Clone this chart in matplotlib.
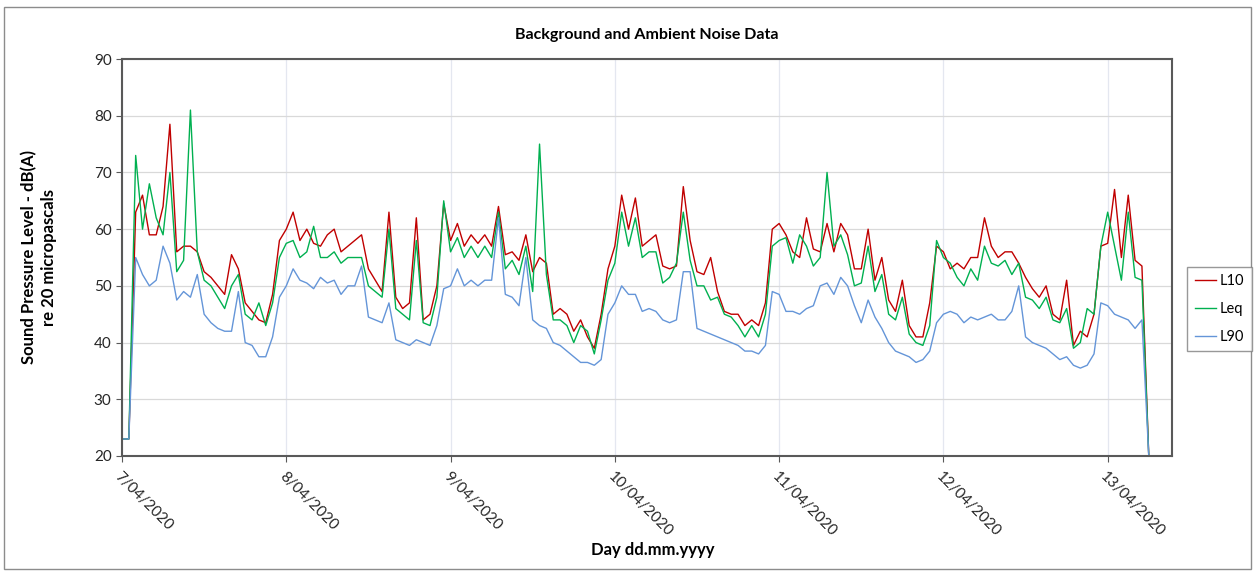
import numpy as np
import pandas as pd
import matplotlib
matplotlib.use("Agg")
import matplotlib.pyplot as plt
from matplotlib.patches import Rectangle

plt.rcParams['font.family'] = ['Lato', 'DejaVu Sans']

# hourly values, starting 7/04/2020 00:00
l10 = [
    23, 23, 63, 66, 59, 59, 64, 78.5, 56, 57, 57, 56, 52.5, 51.5, 50, 48.5, 55.5, 53, 47, 45.5, 44, 43.5, 48.5, 58,   # 7/04
    60, 63, 58, 60, 57.5, 57, 59, 60, 56, 57, 58, 59, 53, 51, 49, 63, 48, 46, 47, 62, 44, 45, 50, 64.5,              # 8/04
    58, 61, 57, 59, 57.5, 59, 57, 64, 55.5, 56, 54.5, 59, 52.5, 55, 54, 45, 46, 45, 42, 44, 41, 39, 45, 53,          # 9/04
    57, 66, 60, 65.5, 57, 58, 59, 53.5, 53, 53.5, 67.5, 58, 52.5, 52, 55, 49, 45.5, 45, 45, 43, 44, 43, 47, 60,      # 10/04
    61, 59, 56, 55, 62, 56.5, 56, 61, 56, 61, 59, 53, 53, 60, 51, 55, 47.5, 45.5, 51, 43, 41, 41, 47, 57,            # 11/04
    56, 53, 54, 53, 55, 55, 62, 57, 55, 56, 56, 54, 51.5, 49.5, 48, 50, 45, 44, 51, 39.5, 42, 41, 45, 57,            # 12/04
    57.5, 67, 55, 66, 54.5, 53.5, 20,                                                                                  # 13/04
]
leq = [
    23, 23, 73, 60, 68, 62, 59, 70, 52.5, 54.5, 81, 56, 51, 50, 48, 46, 50, 52, 45, 44, 47, 43, 47, 55,
    57.5, 58, 55, 56, 60.5, 55, 55, 56, 54, 55, 55, 55, 50, 49, 48, 60, 46, 45, 44, 58, 43.5, 43, 48, 65,
    56, 58.5, 55, 57, 55, 57, 55, 63, 53, 54.5, 52, 57, 49, 75, 52, 44, 44, 43, 40, 43, 42, 38, 44, 51,
    54, 63, 57, 62, 55, 56, 56, 50.5, 51.5, 54, 63, 54.5, 50, 50, 47.5, 48, 45, 44.5, 43, 41, 43, 41, 45, 57,
    58, 58.5, 54, 59, 57, 53.5, 55, 70, 57, 59, 55.5, 50, 50.5, 57, 49, 52, 45, 44, 48, 41.5, 40, 39.5, 43, 58,
    55, 54, 51.5, 50, 53, 51, 57, 54, 53.5, 54.5, 52, 54, 48, 47.5, 46, 48, 44, 43.5, 46, 39, 40, 46, 45, 57,
    63, 57, 51, 63, 51.5, 51, 20,
]
l90 = [
    23, 23, 55, 52, 50, 51, 57, 54, 47.5, 49, 48, 52, 45, 43.5, 42.5, 42, 42, 49, 40, 39.5, 37.5, 37.5, 41, 48,
    50, 53, 51, 50.5, 49.5, 51.5, 50.5, 51, 48.5, 50, 50, 53.5, 44.5, 44, 43.5, 47, 40.5, 40, 39.5, 40.5, 40, 39.5, 43, 49.5,
    50, 53, 50, 51, 50, 51, 51, 62, 48.5, 48, 46.5, 55, 44, 43, 42.5, 40, 39.5, 38.5, 37.5, 36.5, 36.5, 36, 37, 45,
    47, 50, 48.5, 48.5, 45.5, 46, 45.5, 44, 43.5, 44, 52.5, 52.5, 42.5, 42, 41.5, 41, 40.5, 40, 39.5, 38.5, 38.5, 38, 39.5, 49,
    48.5, 45.5, 45.5, 45, 46, 46.5, 50, 50.5, 48.5, 51.5, 50, 46.5, 43.5, 47.5, 44.5, 42.5, 40, 38.5, 38, 37.5, 36.5, 37, 38.5, 43.5,
    45, 45.5, 45, 43.5, 44.5, 44, 44.5, 45, 44, 44, 45.5, 50, 41, 40, 39.5, 39, 38, 37, 37.5, 36, 35.5, 36, 38, 47,
    46.5, 45, 44.5, 44, 42.5, 44, 20,
]
day_labels = ['7/04/2020', '8/04/2020', '9/04/2020', '10/04/2020',
              '11/04/2020', '12/04/2020', '13/04/2020']

start = pd.Timestamp('2020-04-07 00:00')
times = pd.date_range(start, periods=len(l10), freq='h')

fig = plt.figure(figsize=(12.55, 5.72), dpi=100)
fig.patches.append(Rectangle((0.003, 0.006), 0.994, 0.982, transform=fig.transFigure,
                             fill=False, edgecolor='#8c8c8c', lw=1.0))
ax = fig.add_axes([0.0972, 0.2028, 0.8367, 0.694])

ax.plot(times, l10, color='#C00000', lw=1.0, label='L10')
ax.plot(times, leq, color='#00B050', lw=1.0, label='Leq')
ax.plot(times, l90, color='#6495D8', lw=1.0, label='L90')

ax.set_ylim(20, 90)
ax.set_yticks(range(20, 91, 10))
ax.set_xlim(start, start + pd.Timedelta(hours=153.4))
ax.set_xticks(pd.date_range(start, periods=len(day_labels), freq='D'))
ax.set_xticklabels(day_labels, rotation=-45, ha='left', va='top', rotation_mode='anchor')

ax.set_axisbelow(True)
ax.yaxis.grid(True, color='#d9d9d9', lw=0.9)
ax.xaxis.grid(True, color='#e4e7f0', lw=0.9)
for sp in ax.spines.values():
    sp.set_color('#595959')
    sp.set_linewidth(1.5)
ax.tick_params(axis='both', direction='out', length=4, color='#595959',
               labelsize=11, labelcolor='#262626')
ax.tick_params(axis='x', pad=6)

fig.text(0.5155, 0.938, 'Background and Ambient Noise Data', ha='center', va='center',
         fontsize=11.5, fontweight='bold')
fig.text(0.031, 0.55, 'Sound Pressure Level - dB(A)\nre 20 micropascals', ha='center', va='center',
         rotation=90, fontsize=12, fontweight='bold', linespacing=1.3)
fig.text(0.52, 0.038, 'Day dd.mm.yyyy', ha='center', va='center', fontsize=12, fontweight='bold')

fig.legend(loc='center left', bbox_to_anchor=(0.946, 0.46), fontsize=10.5, handlelength=1.5,
           frameon=True, fancybox=False, edgecolor='#7f7f7f', borderpad=0.5,
           labelspacing=0.95, handletextpad=0.25, borderaxespad=0)

fig.savefig('out.png', dpi=100)
